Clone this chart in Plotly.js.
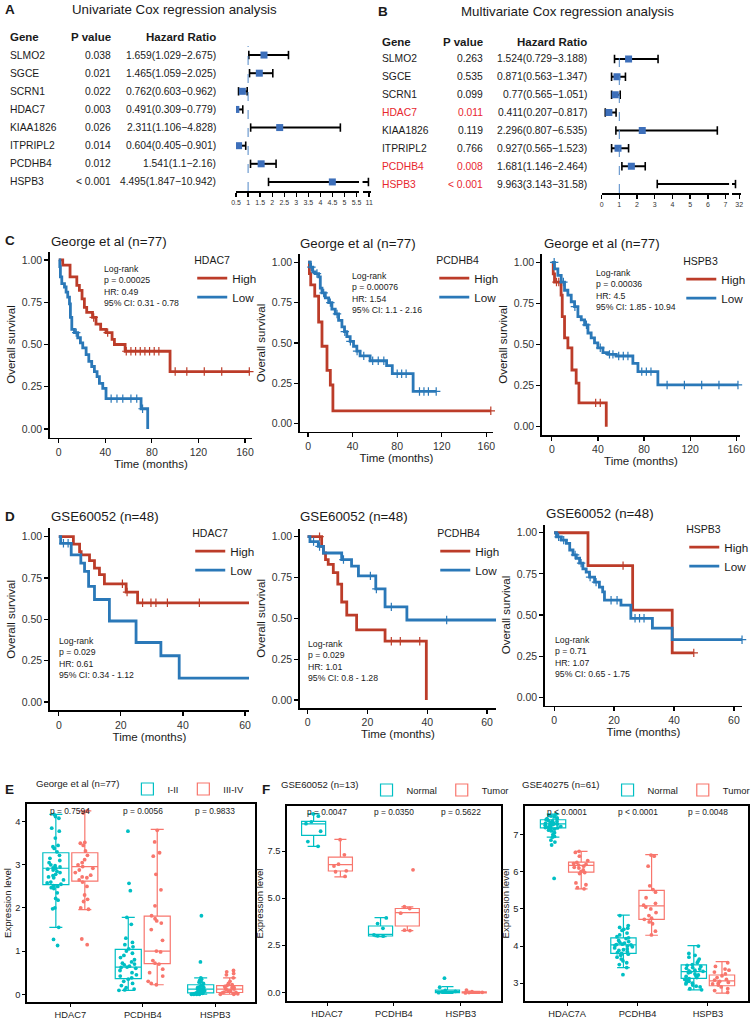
<!DOCTYPE html>
<html><head><meta charset="utf-8">
<script src="https://cdn.plot.ly/plotly-3.0.1.min.js"></script>
<style>html,body{margin:0;padding:0;background:#fff}#fig{width:755px;height:1021px}</style>
</head><body><div id="fig"></div>
<script>
// ================= DATA =================
// Forest plots (A: univariate, B: multivariate)
const coxGenes = ['SLMO2','SGCE','SCRN1','HDAC7','KIAA1826','ITPRIPL2','PCDHB4','HSPB3'];
const uniP  = ['0.038','0.021','0.022','0.003','0.026','0.014','0.012','< 0.001'];
const uniHR = [1.659,1.465,0.762,0.491,2.311,0.604,1.541,4.495];
const uniLo = [1.029,1.059,0.603,0.309,1.106,0.405,1.1,1.847];
const uniHi = [2.675,2.025,0.962,0.779,4.828,0.901,2.16,10.942];
const mulP  = ['0.263','0.535','0.099','0.011','0.119','0.766','0.008','< 0.001'];
const mulHR = [1.524,0.871,0.77,0.411,2.296,0.927,1.681,9.963];
const mulLo = [0.729,0.563,0.565,0.207,0.807,0.565,1.146,3.143];
const mulHi = [3.188,1.347,1.051,0.817,6.535,1.523,2.464,31.58];

// Kaplan-Meier curves: step times (T), survival after step (S), censor times (C)
const c1HighT=[0,3.4,9.7,15.5,17.7,20,22,24,29,32,36,40.6,45.8,47.8,57,95.6,163.7];
const c1HighS=[1,0.97,0.90,0.85,0.82,0.77,0.72,0.69,0.66,0.62,0.59,0.57,0.53,0.50,0.46,0.34,0.34];
const c1HighC=[30,42,58,62,66,70,74,78,82,86,100,110,125,140,163.7];
const c1LowT=[0,0.9,1.4,2.6,4.9,6.3,7.7,9.2,10,11.2,13.5,16.3,18.6,20.6,23.5,25.8,28.3,30.6,32.9,34.9,37.8,40.6,70.7,76.4];
const c1LowS=[1,0.96,0.90,0.86,0.84,0.81,0.78,0.74,0.66,0.59,0.57,0.54,0.51,0.48,0.44,0.40,0.37,0.34,0.31,0.27,0.24,0.18,0.12,0];
const c1LowC=[15,45,50,55,62,67,72];

const c2HighT=[0,1.2,2.4,6,9.5,12.5,17,20,22.3,164];
const c2HighS=[1,0.93,0.86,0.79,0.63,0.48,0.33,0.24,0.08,0.08];
const c2HighC=[164];
const c2LowT=[0,2.1,4.2,6.5,9.5,11,12.5,15.5,18.5,21.4,24.4,27.4,30.4,32.7,34.8,37.8,40.8,43.8,46.7,55.7,70.5,75.6,94.3,115];
const c2LowS=[1,0.97,0.94,0.93,0.91,0.84,0.81,0.78,0.75,0.71,0.68,0.64,0.60,0.57,0.54,0.51,0.48,0.45,0.42,0.39,0.36,0.31,0.20,0.20];
const c2LowC=[3,8,14,20,26,33,38,44,50,58,63,68,80,84,88,100,104,108,115];

const c3HighT=[0,1.2,2.3,8,9,11,13.9,17.4,21.1,23.5,47.2];
const c3HighS=[1,0.93,0.88,0.80,0.67,0.54,0.48,0.345,0.265,0.145,0];
const c3HighC=[4,6,38,42];
const c3LowT=[0,2.3,5.2,8.1,11,13.9,16.8,19.7,22.6,25.5,28.4,31.3,34.1,37,39.9,44.3,48.6,55.8,70.3,74.7,92,161.5];
const c3LowS=[1,0.96,0.92,0.88,0.83,0.80,0.76,0.73,0.67,0.65,0.62,0.57,0.54,0.51,0.48,0.45,0.44,0.43,0.385,0.335,0.254,0.254];
const c3LowC=[2,10,20,30,42,50,53,58,62,66,78,82,86,100,115,130,145,161.5];

const d1HighT=[0,4.7,6.7,7.2,9.9,11.5,13.1,14.7,21.7,25.4,61.4];
const d1HighS=[1,0.955,0.91,0.89,0.855,0.81,0.77,0.715,0.665,0.60,0.60];
const d1HighC=[20.5,22,27,29.7,31.3,35,45.3];
const d1LowT=[0,0.6,4,7.1,8.3,9.6,11.5,16.3,24.9,32.9,38.8,61.4];
const d1LowS=[1,0.96,0.89,0.84,0.79,0.70,0.62,0.49,0.36,0.28,0.145,0.145];
const d1LowC=[1.5,3,61.4];

const d2HighT=[0,4.7,5.3,6,6.9,8.6,10.1,11.4,13.1,16.4,25.9,39.7];
const d2HighS=[1,0.94,0.90,0.86,0.83,0.78,0.71,0.60,0.52,0.43,0.36,0];
const d2HighC=[4,28,31,37.5];
const d2LowT=[0,0.8,3.6,5.3,11.4,14.7,17,22.8,25.9,33.2,63.4];
const d2LowS=[1,0.97,0.94,0.90,0.86,0.82,0.76,0.68,0.57,0.49,0.49];
const d2LowC=[2,4,12,21,23,28,46.5,63.4];

const d3HighT=[0,11.3,26.2,39.4,46.6];
const d3HighS=[1,0.80,0.53,0.27,0.27];
const d3HighC=[23,46.6];
const d3LowT=[0,0.8,2.4,4.1,5.2,6.3,7.4,8.5,9.6,10.7,11.8,13.5,15.1,16.2,16.8,22.3,25.6,32.8,39.4,62.7];
const d3LowS=[1,0.975,0.955,0.935,0.895,0.865,0.845,0.815,0.78,0.76,0.73,0.70,0.67,0.64,0.59,0.56,0.48,0.42,0.35,0.35];
const d3LowC=[1.5,3.2,7,9,12,14,19,21,27,28.5,30,62.7];

const kmCohort = ['George et al (n=77)','George et al (n=77)','George et al (n=77)','GSE60052 (n=48)','GSE60052 (n=48)','GSE60052 (n=48)'];
const kmGenes  = ['HDAC7','PCDHB4','HSPB3','HDAC7','PCDHB4','HSPB3'];
const kmP  = ['0.00025','0.00076','0.00036','0.029','0.029','0.71'];
const kmHR = ['0.49','1.54','4.5','0.61','1.01','1.07'];
const kmCI = ['0.31 - 0.78','1.1 - 2.16','1.85 - 10.94','0.34 - 1.12','0.8 - 1.28','0.65 - 1.75'];
const kmGroups = ['High','Low'];

// Box plots
const eCats = ['HDAC7','PCDHB4','HSPB3'];
const eGroups = ['I-II','III-IV'];
const eStageLowHdac7 = [4.17,4.12,4.08,3.85,3.78,3.62,3.45,3.42,3.38,3.3,3.22,3.15,3.1,3.05,3.0,2.98,2.95,2.93,2.92,2.9,2.88,2.85,2.82,2.78,2.75,2.72,2.7,2.65,2.6,2.58,2.55,2.52,2.5,2.47,2.45,2.35,2.22,2.18,2.0,1.98,1.55,1.27,1.13];
const eStageLowPcdhb4 = [3.78,2.57,2.4,1.78,1.62,1.3,1.2,1.15,1.1,1.05,1.0,0.95,0.9,0.85,0.8,0.75,0.72,0.7,0.68,0.65,0.63,0.62,0.6,0.55,0.5,0.45,0.42,0.38,0.35,0.3,0.25,0.2,0.15,0.12,0.1,0.09];
const eStageLowHspb3 = [1.82,0.75,0.38,0.35,0.32,0.3,0.28,0.25,0.22,0.2,0.18,0.16,0.15,0.14,0.12,0.12,0.1,0.1,0.08,0.07,0.06,0.05,0.04,0.03,0.03,0.02,0.02,0.01,0.01,0.0,0.0,0.0,0.0];
const eStageHighHdac7 = [4.25,4.2,3.52,3.5,3.45,3.32,3.22,3.12,3.05,3.0,2.96,2.92,2.88,2.82,2.76,2.72,2.7,2.65,2.6,2.5,2.3,2.2,2.15,2.0,1.97,1.28,1.15];
const eStageHighPcdhb4 = [3.8,3.53,3.28,3.2,2.78,2.42,2.05,1.82,1.75,1.7,1.65,1.5,1.25,1.0,0.98,0.78,0.72,0.7,0.58,0.5,0.42,0.3,0.25,0.22];
const eStageHighHspb3 = [0.55,0.52,0.48,0.45,0.38,0.3,0.25,0.22,0.2,0.18,0.16,0.15,0.13,0.12,0.1,0.08,0.07,0.05,0.04,0.03,0.02,0.01,0.0,0.0];
const eLowQ1=[2.54,0.36,0.03], eLowMed=[2.92,0.63,0.12], eLowQ3=[3.28,1.04,0.22], eLowMin=[1.55,0.09,0.0], eLowMax=[4.17,1.78,0.38];
const eHighQ1=[2.62,0.71,0.04], eHighMed=[2.96,1.0,0.12], eHighQ3=[3.28,1.81,0.2], eHighMin=[1.96,0.22,0.0], eHighMax=[4.25,3.82,0.38];
const eP = ['p = 0.7594','p = 0.0056','p = 0.9833'];

const f1Cats = ['HDAC7','PCDHB4','HSPB3'];
const fGroups = ['Normal','Tumor'];
const f1NormHdac7=[9.47,9.35,9.05,8.95,8.55,8.0,7.75];
const f1NormPcdhb4=[3.95,3.65,3.4,3.05,3.0,2.98];
const f1NormHspb3=[0.75,0.27,0.1,0.05,0.02,-0.02];
const f1TumHdac7=[8.1,7.3,6.8,6.7,6.45,6.4,6.15];
const f1TumPcdhb4=[6.5,4.55,4.45,4.2,3.3,3.28];
const f1TumHspb3=[0.12,0.03,0.0,-0.01,-0.03];
const f1NormQ1=[8.33,2.99,-0.02], f1NormMed=[8.94,3.08,0.04], f1NormQ3=[9.07,3.52,0.12], f1NormMin=[7.75,2.96,-0.05], f1NormMax=[9.47,3.96,0.3];
const f1TumQ1=[6.44,3.52,-0.03], f1TumMed=[6.78,4.23,0.0], f1TumQ3=[7.18,4.45,0.02], f1TumMin=[6.13,3.27,-0.05], f1TumMax=[8.12,4.54,0.05];
const f1P = ['p = 0.0047','p = 0.0350','p = 0.5622'];

const f2Cats = ['HDAC7A','PCDHB4','HSPB3'];
const f2NormHdac7=[7.55,7.52,7.5,7.48,7.45,7.43,7.42,7.4,7.38,7.36,7.35,7.33,7.32,7.3,7.3,7.29,7.28,7.27,7.26,7.25,7.24,7.22,7.2,7.19,7.18,7.17,7.15,7.12,7.1,7.05,7.0,6.95,6.93,6.85,6.8,6.72,5.82];
const f2NormPcdhb4=[4.82,4.55,4.5,4.48,4.45,4.42,4.35,4.3,4.25,4.22,4.2,4.15,4.12,4.1,4.08,4.05,4.04,4.03,4.02,4.0,3.98,3.95,3.92,3.9,3.88,3.85,3.82,3.8,3.78,3.75,3.7,3.65,3.6,3.55,3.5,3.42,3.23];
const f2NormHspb3=[4.0,3.8,3.75,3.7,3.65,3.6,3.55,3.5,3.48,3.45,3.42,3.4,3.38,3.35,3.33,3.32,3.3,3.28,3.25,3.22,3.2,3.18,3.15,3.12,3.1,3.08,3.05,3.02,3.0,2.98,2.95,2.92,2.9,2.85,2.82];
const f2TumHdac7=[6.55,6.52,6.42,6.3,6.25,6.22,6.2,6.18,6.15,6.12,6.1,6.05,6.0,5.98,5.95,5.7,5.65,5.57,5.54];
const f2TumPcdhb4=[6.45,6.42,6.15,5.62,5.52,5.45,5.3,5.15,5.1,5.05,5.0,4.9,4.82,4.75,4.72,4.65,4.6,4.4,4.3];
const f2TumHspb3=[3.55,3.45,3.38,3.35,3.3,3.25,3.2,3.15,3.1,3.08,3.05,3.02,3.0,2.98,2.95,2.9,2.85,2.8,2.75];
const f2NormQ1=[7.18,3.80,3.13], f2NormMed=[7.29,4.03,3.31], f2NormQ3=[7.40,4.22,3.49], f2NormMin=[6.93,3.42,2.82], f2NormMax=[7.55,4.83,4.01];
const f2TumQ1=[5.99,4.72,2.93], f2TumMed=[6.17,5.08,3.06], f2TumQ3=[6.26,5.5,3.22], f2TumMin=[5.54,4.29,2.73], f2TumMax=[6.55,6.46,3.58];
const f2P = ['p < 0.0001','p < 0.0001','p = 0.0048'];

// ================= DRAWING =================
const W=755, H=1021;
const FONT='Liberation Sans, Arial, Helvetica, sans-serif';
const TXT='#1a1a1a';
const RED='#BC3C29', BLUE='#2A78B8', TEAL='#00BFC4', SALMON='#F8766D';
const fx=p=>p/W, fy=p=>1-p/H;
const hdom=(a,b)=>[a/W,b/W];
const vdom=(t,b)=>[1-b/H,1-t/H];
const xr=n=>n===1?'x':'x'+n, yr=n=>n===1?'y':'y'+n;
const xk=n=>n===1?'xaxis':'xaxis'+n, yk=n=>n===1?'yaxis':'yaxis'+n;

const traces=[], annotations=[], shapes=[];
const layout={width:W,height:H,margin:{l:0,r:0,t:0,b:0},paper_bgcolor:'#fff',plot_bgcolor:'rgba(0,0,0,0)',
  font:{family:FONT,color:TXT},showlegend:true,boxmode:'group',boxgap:0.2,boxgroupgap:0.1,hovermode:false};

function label(text,x,y,size,opts){annotations.push(Object.assign({text,x:fx(x),y:fy(y),xref:'paper',yref:'paper',showarrow:false,xanchor:'left',yanchor:'middle',font:{size,family:FONT,color:TXT}},opts||{}));}

// panel letters
[['A',3,10],['B',378,11],['C',3,240],['D',3,516],['E',3,789],['F',261,789]].forEach(([t,x,y])=>label('<b>'+t+'</b>',x,y,13.5));

// ---------- Forest ----------
function forest(c){
  const rows=c.genes.map((g,i)=>i);
  const segX=[],segY=[];
  c.lo.forEach((v,i)=>{segX.push(c.lo[i],c.hi[i],null);segY.push(i,i,null);});
  [c.xm,c.xb].forEach(n=>{
    traces.push({type:'scatter',mode:'lines',x:segX,y:segY,xaxis:xr(n),yaxis:yr(c.y),line:{color:'#000',width:2},showlegend:false});
    traces.push({type:'scatter',mode:'markers',x:c.lo.concat(c.hi),y:rows.concat(rows),xaxis:xr(n),yaxis:yr(c.y),
      marker:{symbol:'line-ns-open',size:6,color:'#000',line:{color:'#000',width:1.6}},showlegend:false});
    traces.push({type:'scatter',mode:'markers',x:c.hr,y:rows,xaxis:xr(n),yaxis:yr(c.y),
      marker:{symbol:'square',size:7,color:'#3D6FBA'},showlegend:false});
  });
  const ax={showline:true,linecolor:'#000',linewidth:1.8,ticks:'outside',ticklen:4,tickwidth:1.4,tickcolor:'#000',
    tickfont:{size:7,color:'#333'},showgrid:false,zeroline:false,anchor:yr(c.y),fixedrange:true};
  layout[xk(c.xm)]=Object.assign({},ax,{domain:hdom(...c.mainDom),range:c.mainRange,tickvals:c.mainTicks});
  layout[xk(c.xb)]=Object.assign({},ax,{domain:hdom(...c.brkDom),range:c.brkRange,tickvals:c.brkTicks});
  layout[yk(c.y)]={domain:vdom(c.top,c.bot),range:[c.genes.length-0.5,-0.5],visible:false,anchor:xr(c.xm),showgrid:false,zeroline:false};
  shapes.push({type:'line',xref:xr(c.xm),yref:yr(c.y)+' domain',x0:1,x1:1,y0:0,y1:1,line:{color:'#4F86C6',width:1,dash:'dash'}});
  const sig=p=>p.trim().startsWith('<')||parseFloat(p)<0.05;
  c.genes.forEach((g,i)=>{
    const col=(c.highlight&&sig(c.pv[i]))?'#E8262E':TXT;
    const base={yref:yr(c.y),y:i,xref:'paper',showarrow:false,yanchor:'middle',font:{size:10.3,family:FONT,color:col}};
    annotations.push(Object.assign({},base,{text:g,x:fx(c.col[0]),xanchor:'left'}));
    annotations.push(Object.assign({},base,{text:c.pv[i],x:fx(c.col[1]),xanchor:'right'}));
    annotations.push(Object.assign({},base,{text:`${c.hr[i]}(${c.lo[i]}\u2212${c.hi[i]})`,x:fx(c.col[2]),xanchor:'right',font:{size:10.3,family:FONT,color:TXT}}));
  });
  label('<b>Gene</b>',c.col[0],c.hy,11.5);
  label('<b>P value</b>',c.col[1],c.hy,11.5,{xanchor:'right'});
  label('<b>Hazard Ratio</b>',c.col[2],c.hy,11.5,{xanchor:'right'});
  label(c.title,c.tx,c.ty,13.3,{xanchor:'center'});
}
forest({genes:coxGenes,pv:uniP,hr:uniHR,lo:uniLo,hi:uniHi,xm:1,xb:2,y:1,
  mainDom:[237,360.4],mainRange:[0.5,5.6],mainTicks:[0.5,1,1.5,2,2.5,3,3.5,4,4.5,5,5.5],
  brkDom:[364,372],brkRange:[10.5,11.1],brkTicks:[11],top:46,bot:191,col:[8,113,219],hy:37,
  title:'Univariate Cox regression analysis',tx:175,ty:10,highlight:false});
forest({genes:coxGenes,pv:mulP,hr:mulHR,lo:mulLo,hi:mulHi,xm:3,xb:4,y:2,
  mainDom:[604,732],mainRange:[0,7.2],mainTicks:[0,1,2,3,4,5,6,7],
  brkDom:[735,744],brkRange:[31.2,32.2],brkTicks:[32],top:50,bot:193,col:[382,487,591],hy:42,
  title:'Multivariate Cox regression analysis',tx:570,ty:11,highlight:true});

// ---------- Kaplan-Meier ----------
function stepAt(t,s,c){let v=s[0];for(let i=0;i<t.length;i++){if(t[i]<=c)v=s[i];else break;}return v;}
const kmCurves=[
  [[c1HighT,c1HighS,c1HighC],[c1LowT,c1LowS,c1LowC]],
  [[c2HighT,c2HighS,c2HighC],[c2LowT,c2LowS,c2LowC]],
  [[c3HighT,c3HighS,c3HighC],[c3LowT,c3LowS,c3LowC]],
  [[d1HighT,d1HighS,d1HighC],[d1LowT,d1LowS,d1LowC]],
  [[d2HighT,d2HighS,d2HighC],[d2LowT,d2LowS,d2LowC]],
  [[d3HighT,d3HighS,d3HighC],[d3LowT,d3LowS,d3LowC]]];
// lg = [left, vertical centre] of each legend block
const kmPos=[
  {xd:[50,253],yd:[251.5,437.5],xr:[-7.7,166],xt:[0,40,80,120,160],tt:[49,241],lg:[193,281],st:[102,262]},
  {xd:[301,495],yd:[254.2,431.8],xr:[-7.4,166],xt:[0,40,80,120,160],tt:[299,243],lg:[436,281],st:[351,269]},
  {xd:[544,743],yd:[254.1,434.9],xr:[-8.7,163.3],xt:[0,40,80,120,160],tt:[544,243],lg:[684,282],st:[596,266]},
  {xd:[50,250],yd:[528.4,710.3],xr:[-2.9,61.3],xt:[0,20,40,60],tt:[49,516],lg:[191,554],st:[57,634]},
  {xd:[301,498],yd:[528.5,708.2],xr:[-2.6,63],xt:[0,20,40,60],tt:[299,516],lg:[437,554],st:[307,637]},
  {xd:[547,745],yd:[524.5,705.5],xr:[-3.1,62.7],xt:[0,20,40,60],tt:[546,513],lg:[687,550],st:[555,633]}];
kmCurves.forEach((pair,k)=>{
  const xn=5+k, yn=3+k, P=kmPos[k], lgName=k===0?'legend':'legend'+(k+1);
  pair.forEach(([t,s,c],g)=>{
    const col=g===0?RED:BLUE;
    traces.push({type:'scatter',mode:'lines',x:t,y:s,xaxis:xr(xn),yaxis:yr(yn),name:kmGroups[g],legend:lgName,
      line:{shape:'hv',color:col,width:2.8}});
    traces.push({type:'scatter',mode:'markers',x:c,y:c.map(v=>stepAt(t,s,v)),xaxis:xr(xn),yaxis:yr(yn),showlegend:false,
      marker:{symbol:'cross-thin-open',size:6,color:col,line:{color:col,width:1.2}},cliponaxis:false});
  });
  const ax={showline:true,linecolor:'#000',linewidth:1.6,ticks:'outside',ticklen:4,tickwidth:1.2,tickcolor:'#000',
    tickfont:{size:10.5,color:'#333',family:FONT},showgrid:false,zeroline:false,fixedrange:true};
  layout[xk(xn)]=Object.assign({},ax,{domain:hdom(...P.xd),range:P.xr,tickvals:P.xt,anchor:yr(yn),
    title:{text:'Time (months)',font:{size:11.5,family:FONT,color:TXT},standoff:2}});
  layout[yk(yn)]=Object.assign({},ax,{domain:vdom(...P.yd),range:[-0.05,1.05],tickvals:[0,0.25,0.5,0.75,1],tickformat:'.2f',anchor:xr(xn),
    title:{text:'Overall survival',font:{size:11.5,family:FONT,color:TXT},standoff:3}});
  label(kmCohort[k],P.tt[0],P.tt[1],13.3);
  annotations.push({text:`Log-rank<br>p = ${kmP[k]}<br>HR: ${kmHR[k]}<br>95% CI: ${kmCI[k]}`,xref:'paper',yref:'paper',
    x:fx(P.st[0]),y:fy(P.st[1]),xanchor:'left',yanchor:'top',align:'left',showarrow:false,font:{size:8.7,family:FONT,color:TXT}});
  layout[lgName]={x:fx(P.lg[0]),y:fy(P.lg[1]),xanchor:'left',yanchor:'middle',bgcolor:'rgba(0,0,0,0)',borderwidth:0,
    font:{size:11.7,family:FONT,color:TXT},title:{text:kmGenes[k],font:{size:10.5,family:FONT,color:TXT}},itemwidth:30,tracegroupgap:0};
});

// ---------- Box plots ----------
function boxGroup(cats,pts,q1,med,q3,mn,mx,color,name,og,xn,yn,lg){
  const bx=[],by=[];
  pts.forEach((arr,i)=>arr.forEach(v=>{bx.push(cats[i]);by.push(v);}));
  traces.push({type:'box',x:cats,q1,median:med,q3,lowerfence:mn,upperfence:mx,boxpoints:false,name,legend:lg,
    offsetgroup:og,xaxis:xr(xn),yaxis:yr(yn),line:{color,width:1.2},fillcolor:'rgba(255,255,255,0)'});
  traces.push({type:'box',x:bx,y:by,boxpoints:'all',jitter:0.75,pointpos:0,offsetgroup:og,xaxis:xr(xn),yaxis:yr(yn),
    showlegend:false,marker:{color,size:3.8},line:{width:0,color:'rgba(0,0,0,0)'},fillcolor:'rgba(0,0,0,0)'});
}
function boxAxes(xn,yn,xd,yd,xrng,yrng,cats,ytick,yfmt){
  const ax={showline:true,mirror:true,linecolor:'#000',linewidth:2,ticks:'outside',ticklen:2.5,tickwidth:1,tickcolor:'#000',
    tickfont:{size:9.3,color:'#222',family:FONT},showgrid:false,zeroline:false,fixedrange:true};
  layout[xk(xn)]=Object.assign({},ax,{domain:hdom(...xd),type:'category',categoryarray:cats,range:xrng,anchor:yr(yn)});
  layout[yk(yn)]=Object.assign({},ax,{domain:vdom(...yd),range:yrng,tickvals:ytick,tickformat:yfmt,anchor:xr(xn),
    title:{text:'Expression level',font:{size:9.6,family:FONT,color:TXT},standoff:2}});
}
function pLabels(cats,ps,xn,ypx){cats.forEach((c,i)=>annotations.push({text:ps[i],x:c,xref:xr(xn),y:fy(ypx),yref:'paper',
  showarrow:false,xanchor:'center',yanchor:'middle',font:{size:8.4,family:FONT,color:TXT}}));}
function boxLegend(name,title,cx,cy){layout[name]={orientation:'h',x:fx(cx),y:fy(cy),xanchor:'center',yanchor:'middle',
  bgcolor:'rgba(0,0,0,0)',font:{size:9.4,family:FONT,color:TXT},title:{text:title,side:'left',font:{size:9.6,family:FONT,color:TXT}},itemwidth:30};}

// E
boxGroup(eCats,[eStageLowHdac7,eStageLowPcdhb4,eStageLowHspb3],eLowQ1,eLowMed,eLowQ3,eLowMin,eLowMax,TEAL,eGroups[0],'e1',11,9,'legend7');
boxGroup(eCats,[eStageHighHdac7,eStageHighPcdhb4,eStageHighHspb3],eHighQ1,eHighMed,eHighQ3,eHighMin,eHighMax,SALMON,eGroups[1],'e2',11,9,'legend7');
boxAxes(11,9,[27,256],[804,1002],[-0.6,2.55],[-0.18,4.41],eCats,[0,1,2,3,4],'d');
pLabels(eCats,eP,11,811);
boxLegend('legend7','George et al (n=77)',142,789);
// F1
boxGroup(f1Cats,[f1NormHdac7,f1NormPcdhb4,f1NormHspb3],f1NormQ1,f1NormMed,f1NormQ3,f1NormMin,f1NormMax,TEAL,fGroups[0],'f1',12,10,'legend8');
boxGroup(f1Cats,[f1TumHdac7,f1TumPcdhb4,f1TumHspb3],f1TumQ1,f1TumMed,f1TumQ3,f1TumMin,f1TumMax,SALMON,fGroups[1],'f2',12,10,'legend8');
boxAxes(12,10,[288,503],[806,1001],[-0.6,2.6],[-0.46,9.89],f1Cats,[0,2.5,5,7.5],'.1f');
pLabels(f1Cats,f1P,12,812);
boxLegend('legend8','GSE60052 (n=13)',398,790);
// F2
boxGroup(f2Cats,[f2NormHdac7,f2NormPcdhb4,f2NormHspb3],f2NormQ1,f2NormMed,f2NormQ3,f2NormMin,f2NormMax,TEAL,fGroups[0],'g1',13,11,'legend9');
boxGroup(f2Cats,[f2TumHdac7,f2TumPcdhb4,f2TumHspb3],f2TumQ1,f2TumMed,f2TumQ3,f2TumMin,f2TumMax,SALMON,fGroups[1],'g2',13,11,'legend9');
boxAxes(13,11,[527,751],[806,1001],[-0.6,2.57],[2.52,7.77],f2Cats,[3,4,5,6,7],'d');
pLabels(f2Cats,f2P,13,812);
boxLegend('legend9','GSE40275 (n=61)',640,790);

layout.annotations=annotations; layout.shapes=shapes;
Plotly.newPlot('fig',traces,layout,{staticPlot:true,displayModeBar:false});
</script></body></html>
